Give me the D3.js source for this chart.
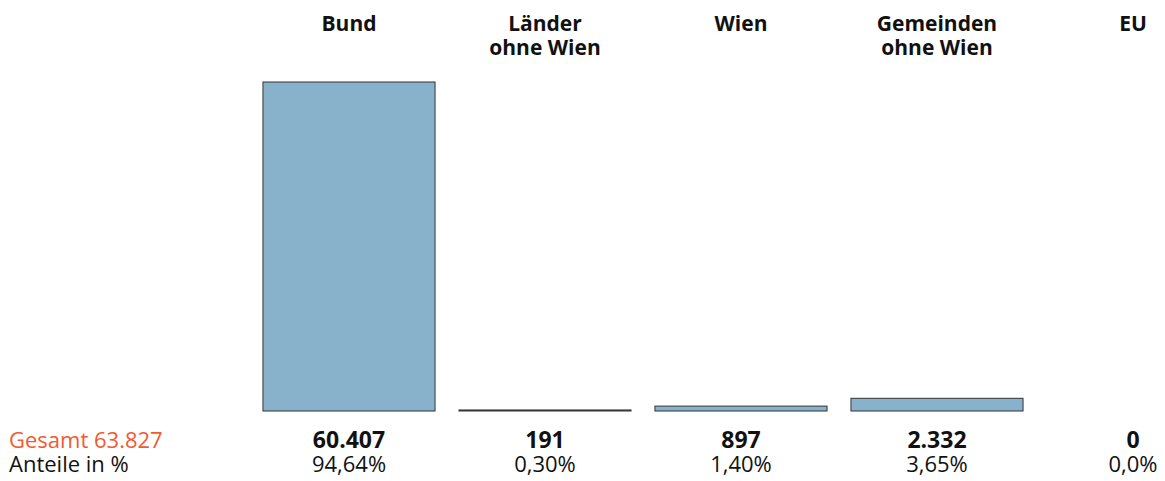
<!DOCTYPE html>
<html>
<head>
<meta charset="utf-8">
<script src="https://cdn.jsdelivr.net/npm/d3@7"></script>
<style>
  body { margin: 0; background: #fff; }
  text { font-family: "Open Sans", "Noto Sans", sans-serif; }
</style>
</head>
<body>
<div id="chart"></div>
<script>
// data
const categories = ["Bund", "Länder ohne Wien", "Wien", "Gemeinden ohne Wien", "EU"];
const headerLines = [["Bund"], ["Länder", "ohne Wien"], ["Wien"], ["Gemeinden", "ohne Wien"], ["EU"]];
const values = [60407, 191, 897, 2332, 0];
const valueLabels = ["60.407", "191", "897", "2.332", "0"];
const shareLabels = ["94,64%", "0,30%", "1,40%", "3,65%", "0,0%"];
const totalLabel = "Gesamt 63.827";
const shareTitle = "Anteile in %";

const width = 1165, height = 481;

const svg = d3.select("#chart").append("svg")
    .attr("width", width)
    .attr("height", height);

const x = d3.scaleBand()
    .domain(categories)
    .range([251, 1231])
    .paddingInner(0.122)
    .paddingOuter(0.061);

const y = d3.scaleLinear()
    .domain([0, d3.max(values)])
    .range([411, 82]);

// column headers, one or two lines
const headers = svg.selectAll("text.header")
    .data(categories)
    .join("text")
    .attr("class", "header")
    .attr("text-anchor", "middle")
    .attr("font-size", "21px")
    .attr("font-weight", "bold")
    .attr("fill", "#111");

headers.selectAll("tspan")
    .data((d, i) => headerLines[i].map(l => ({ line: l, cat: d })))
    .join("tspan")
    .attr("x", d => x(d.cat) + x.bandwidth() / 2)
    .attr("y", (d, i) => 31 + i * 24)
    .text(d => d.line);

// bars (EU is zero, so no bar)
svg.selectAll("rect.bar")
    .data(categories.filter((d, i) => values[i] > 0))
    .join("rect")
    .attr("class", "bar")
    .attr("x", d => x(d))
    .attr("width", x.bandwidth())
    .attr("y", d => y(values[categories.indexOf(d)]))
    .attr("height", d => Math.max(0.5, y(0) - y(values[categories.indexOf(d)])))
    .attr("fill", "#88b2cb")
    .attr("stroke", "#333")
    .attr("stroke-width", 1);

// value + share labels under the bars
svg.selectAll("text.value")
    .data(categories)
    .join("text")
    .attr("class", "value")
    .attr("x", d => x(d) + x.bandwidth() / 2)
    .attr("y", 448)
    .attr("text-anchor", "middle")
    .attr("font-size", "23px")
    .attr("font-weight", "bold")
    .attr("fill", "#111")
    .text((d, i) => valueLabels[i]);

svg.selectAll("text.share")
    .data(categories)
    .join("text")
    .attr("class", "share")
    .attr("x", d => x(d) + x.bandwidth() / 2)
    .attr("y", 472)
    .attr("text-anchor", "middle")
    .attr("font-size", "22px")
    .attr("fill", "#111")
    .text((d, i) => shareLabels[i]);

svg.append("text")
    .attr("x", 9)
    .attr("y", 448)
    .attr("font-size", "22px")
    .attr("fill", "#f25a2f")
    .text(totalLabel);

svg.append("text")
    .attr("x", 9)
    .attr("y", 472)
    .attr("font-size", "22px")
    .attr("fill", "#111")
    .text(shareTitle);
</script>
</body>
</html>
